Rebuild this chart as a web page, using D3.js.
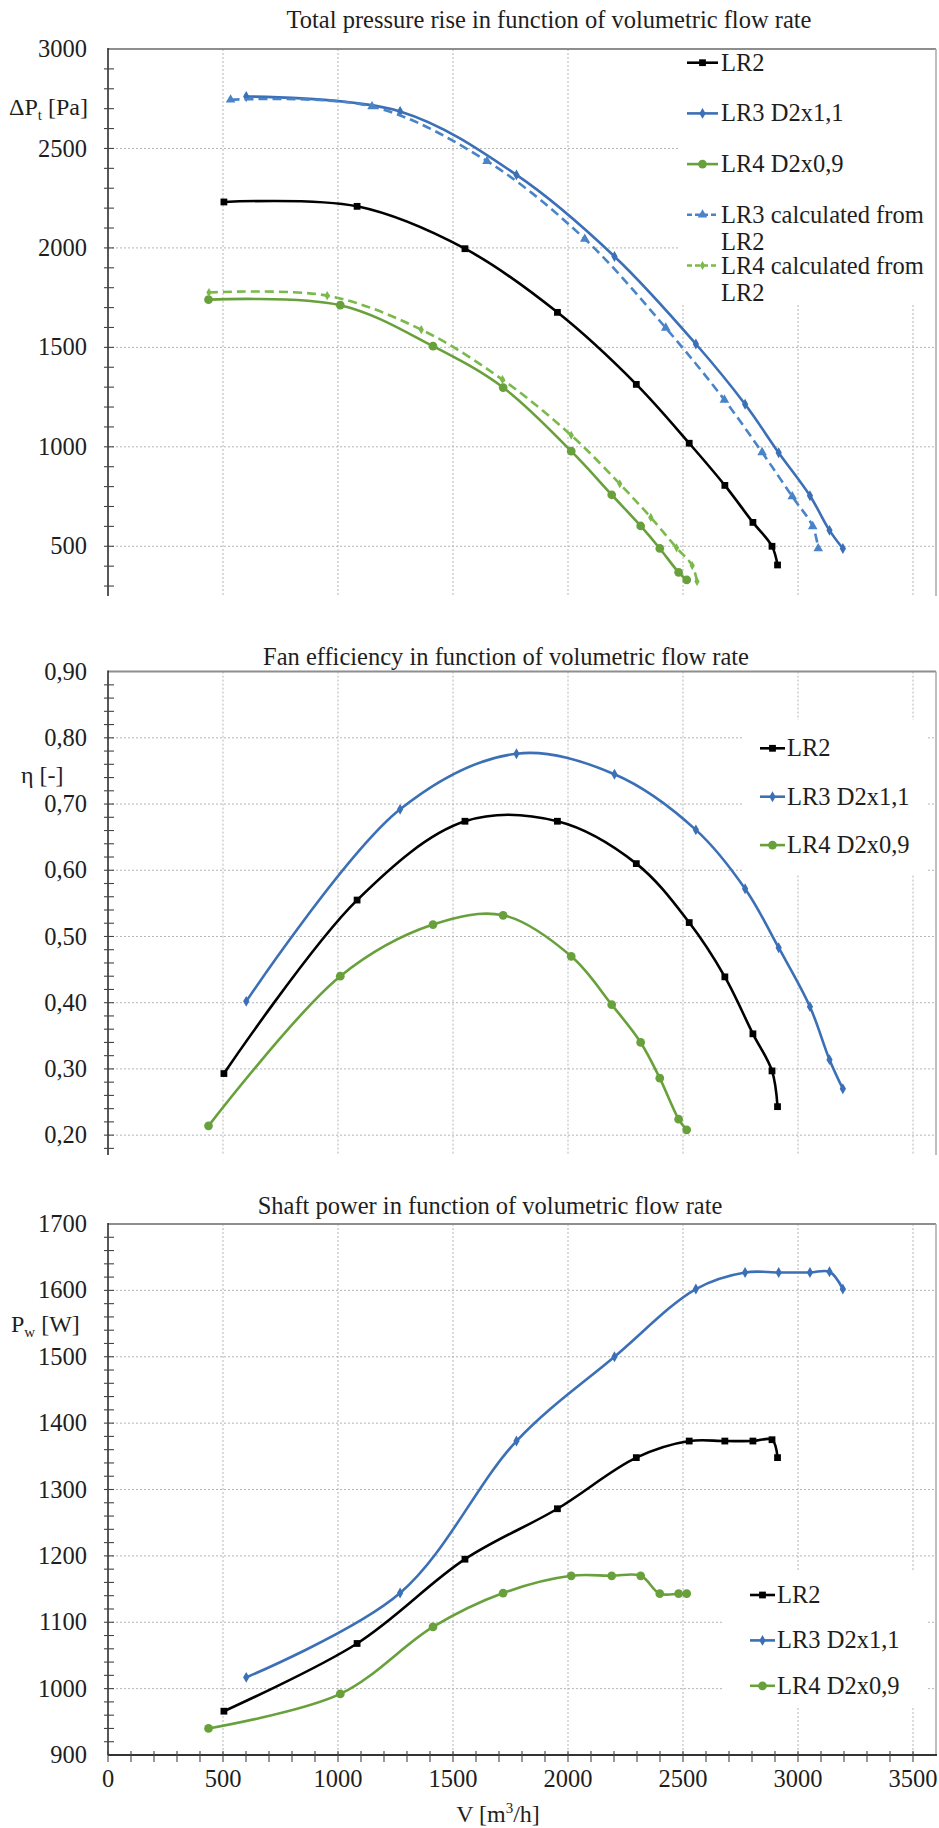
<!DOCTYPE html>
<html><head><meta charset="utf-8">
<script src="https://cdn.jsdelivr.net/npm/d3@7"></script>
<style>
body{margin:0;background:#fff}
svg{display:block}
text,tspan{font-family:"Liberation Serif","Times New Roman",serif;fill:#1e1e1e}
</style>
</head><body>
<svg id="c" width="939" height="1828" font-family="Liberation Serif, Times New Roman, serif"></svg>
<script>
// ---------- data ----------
const flowLR2     = [504, 1083, 1552, 1954, 2297, 2527, 2682, 2804, 2887, 2911];
const flowLR3     = [601, 1270, 1776, 2202, 2556, 2770, 2916, 3052, 3137, 3195];
const flowLR4     = [437, 1010, 1413, 1718, 2014, 2190, 2316, 2399, 2481, 2516];
const flowLR3calc = [533, 1148, 1648, 2073, 2425, 2680, 2844, 2975, 3064, 3088];
const flowLR4calc = [439, 953, 1362, 1715, 2014, 2225, 2360, 2472, 2540, 2561];

const pressureLR2     = [2231, 2209, 1996, 1676, 1314, 1018, 806, 620, 500, 406];
const pressureLR3     = [2761, 2686, 2367, 1957, 1517, 1214, 970, 754, 580, 489];
const pressureLR4     = [1740, 1712, 1506, 1298, 978, 759, 602, 489, 369, 331];
const pressureLR3calc = [2745, 2711, 2436, 2045, 1598, 1236, 972, 750, 600, 489];
const pressureLR4calc = [1776, 1760, 1589, 1338, 1058, 814, 645, 492, 403, 323];

const efficiencyLR2 = [0.293, 0.555, 0.674, 0.674, 0.610, 0.521, 0.439, 0.353, 0.297, 0.243];
const efficiencyLR3 = [0.402, 0.692, 0.776, 0.745, 0.661, 0.572, 0.483, 0.394, 0.314, 0.270];
const efficiencyLR4 = [0.214, 0.440, 0.518, 0.532, 0.470, 0.397, 0.340, 0.286, 0.224, 0.208];

const powerLR2 = [966, 1068, 1195, 1271, 1348, 1373, 1373, 1373, 1375, 1348];
const powerLR3 = [1017, 1144, 1373, 1500, 1602, 1627, 1627, 1627, 1628, 1602];
const powerLR4 = [940, 992, 1093, 1144, 1170, 1170, 1170, 1143, 1143, 1143];

const seriesNames = ["LR2", "LR3 D2x1,1", "LR4 D2x0,9", "LR3 calculated from LR2", "LR4 calculated from LR2"];
const flowTicks = [0, 500, 1000, 1500, 2000, 2500, 3000, 3500];
const pressureTicks = [500, 1000, 1500, 2000, 2500, 3000];
const efficiencyTicks = [0.2, 0.3, 0.4, 0.5, 0.6, 0.7, 0.8, 0.9];
const powerTicks = [900, 1000, 1100, 1200, 1300, 1400, 1500, 1600, 1700];
const titles = ["Total pressure rise in function of volumetric flow rate",
                "Fan efficiency in function of volumetric flow rate",
                "Shaft power in function of volumetric flow rate"];

// ---------- styles ----------
const FONT = '"Liberation Serif","Times New Roman",serif';
const styleOf = {
  "LR2": {color:"#000000", dash:null, sym:d3.symbolSquare, size:46},
  "LR3 D2x1,1": {color:"#3b6fb6", dash:null, sym:d3.symbolDiamond, size:34},
  "LR4 D2x0,9": {color:"#68a13b", dash:null, sym:d3.symbolCircle, size:60},
  "LR3 calculated from LR2": {color:"#4a84c8", dash:"9,5", sym:d3.symbolTriangle, size:40},
  "LR4 calculated from LR2": {color:"#7ab94a", dash:"9,5", sym:d3.symbolDiamond, size:24}
};

const svg = d3.select("#c");
const X0 = 108, X1 = 936;
const x = d3.scaleLinear().domain([0, 3600]).range([X0, X1]);
const curve = d3.curveCatmullRom.alpha(0.5);

function txt(sel, size) {
  return sel.append("text").style("font-family", FONT).attr("font-size", size).attr("fill", "#1e1e1e");
}

function chart(o) {
  const g = svg.append("g");
  const y = o.y;
  const [yb, yt] = y.range();

  // horizontal gridlines
  g.selectAll(null).data(o.ticks.filter(t => y(t) > yt + 1)).enter().append("line")
    .attr("x1", X0).attr("x2", X1).attr("y1", d => y(d)).attr("y2", d => y(d))
    .attr("stroke", "#b5b5b5").attr("stroke-width", 1).attr("stroke-dasharray", "2,2");
  // vertical gridlines
  g.selectAll(null).data(flowTicks.filter(t => t > 0)).enter().append("line")
    .attr("x1", d => x(d)).attr("x2", d => x(d)).attr("y1", yt).attr("y2", yb)
    .attr("stroke", "#b5b5b5").attr("stroke-width", 1).attr("stroke-dasharray", "2,2");

  // legend background
  const L = o.legend;
  g.append("rect").attr("x", L.box[0]).attr("y", L.box[1]).attr("width", L.box[2]).attr("height", L.box[3]).attr("fill", "#fff");

  // borders
  g.append("line").attr("x1", X0).attr("x2", X1).attr("y1", yt).attr("y2", yt).attr("stroke", "#8e8e8e").attr("stroke-width", 2);
  g.append("line").attr("x1", X1).attr("x2", X1).attr("y1", yt).attr("y2", yb).attr("stroke", "#a8a8a8").attr("stroke-width", 1.5);

  // series
  o.series.forEach(s => {
    const st = styleOf[s.name];
    const pts = s.flow.map((f, i) => [f, s.vals[i]]);
    g.append("path").datum(pts)
      .attr("d", d3.line().x(d => x(d[0])).y(d => y(d[1])).curve(curve))
      .attr("fill", "none").attr("stroke", st.color).attr("stroke-width", 2.6)
      .attr("stroke-dasharray", st.dash);
    g.selectAll(null).data(pts).enter().append("path")
      .attr("d", d3.symbol().type(st.sym).size(st.size))
      .attr("transform", d => `translate(${x(d[0])},${y(d[1])})`)
      .attr("fill", st.color);
  });

  // y axis
  g.append("line").attr("x1", X0).attr("x2", X0).attr("y1", yt - 1).attr("y2", yb).attr("stroke", "#2e2e2e").attr("stroke-width", 1.6);
  g.selectAll(null).data(o.minor).enter().append("line")
    .attr("x1", X0 - 4).attr("x2", X0 + 6).attr("y1", d => y(d)).attr("y2", d => y(d))
    .attr("stroke", "#444").attr("stroke-width", 1.1);
  o.ticks.forEach(t => {
    txt(g, 24.5).attr("x", 87).attr("y", y(t)).attr("dy", "0.33em").attr("text-anchor", "end").text(o.fmt(t));
  });

  // title
  txt(g, 24.5).attr("x", o.titleX).attr("y", o.titleY).attr("text-anchor", "middle").text(o.title);

  // axis title
  const at = txt(g, 24).attr("x", o.axisTitle.x).attr("y", o.axisTitle.y);
  o.axisTitle.parts.forEach(p => {
    const t = at.append("tspan").style("font-family", FONT).text(p.t);
    if (p.sub) t.attr("font-size", 15).attr("dy", 5);
    if (p.after) t.attr("dy", -5);
  });

  // legend
  L.items.forEach((it, i) => {
    const st = styleOf[it.name];
    const ly = L.y0 + i * L.step;
    g.append("line").attr("x1", L.lx0).attr("x2", L.lx1).attr("y1", ly).attr("y2", ly)
      .attr("stroke", st.color).attr("stroke-width", 2.6).attr("stroke-dasharray", st.dash ? "5,3" : null);
    g.append("path").attr("d", d3.symbol().type(st.sym).size(st.size))
      .attr("transform", `translate(${(L.lx0 + L.lx1) / 2},${ly})`).attr("fill", st.color);
    const tx = txt(g, 24.5).attr("x", L.tx).attr("y", ly);
    it.lines.forEach((ln, j) => {
      tx.append("tspan").style("font-family", FONT).attr("x", L.tx).attr("dy", j === 0 ? "0.33em" : 27).text(ln);
    });
  });
  return g;
}

const range = (a, b, s) => d3.range(Math.round(a / s), Math.round(b / s) + 1).map(k => +(k * s).toFixed(4));

// ---------- chart 1: pressure ----------
chart({
  y: d3.scaleLinear().domain([250, 3000]).range([596, 49]),
  ticks: pressureTicks, minor: range(300, 2900, 100),
  fmt: d => d3.format("d")(d),
  title: titles[0], titleX: 549, titleY: 28,
  axisTitle: {x: 9, y: 115, parts: [{t: "ΔP"}, {t: "t", sub: true}, {t: " [Pa]", after: true}]},
  series: [
    {name: seriesNames[0], flow: flowLR2, vals: pressureLR2},
    {name: seriesNames[1], flow: flowLR3, vals: pressureLR3},
    {name: seriesNames[2], flow: flowLR4, vals: pressureLR4},
    {name: seriesNames[3], flow: flowLR3calc, vals: pressureLR3calc},
    {name: seriesNames[4], flow: flowLR4calc, vals: pressureLR4calc}
  ],
  legend: {box: [680, 50, 256, 253], lx0: 687, lx1: 718, tx: 721, y0: 62.7, step: 50.7,
    items: [
      {name: seriesNames[0], lines: ["LR2"]},
      {name: seriesNames[1], lines: ["LR3 D2x1,1"]},
      {name: seriesNames[2], lines: ["LR4 D2x0,9"]},
      {name: seriesNames[3], lines: ["LR3 calculated from", "LR2"]},
      {name: seriesNames[4], lines: ["LR4 calculated from", "LR2"]}
    ]}
});

// ---------- chart 2: efficiency ----------
chart({
  y: d3.scaleLinear().domain([0.17, 0.90]).range([1155, 671.6]),
  ticks: efficiencyTicks, minor: range(0.18, 0.88, 0.02),
  fmt: d => d3.format(".2f")(d).replace(".", ","),
  title: titles[1], titleX: 506, titleY: 665,
  axisTitle: {x: 21, y: 783, parts: [{t: "η [-]"}]},
  series: [
    {name: seriesNames[0], flow: flowLR2, vals: efficiencyLR2},
    {name: seriesNames[1], flow: flowLR3, vals: efficiencyLR3},
    {name: seriesNames[2], flow: flowLR4, vals: efficiencyLR4}
  ],
  legend: {box: [743, 720, 184, 155], lx0: 760, lx1: 785, tx: 787, y0: 748.3, step: 48.4,
    items: [
      {name: seriesNames[0], lines: ["LR2"]},
      {name: seriesNames[1], lines: ["LR3 D2x1,1"]},
      {name: seriesNames[2], lines: ["LR4 D2x0,9"]}
    ]}
});

// ---------- chart 3: power ----------
const yP = d3.scaleLinear().domain([900, 1700]).range([1755, 1224]);
chart({
  y: yP,
  ticks: powerTicks, minor: range(920, 1680, 20),
  fmt: d => d3.format("d")(d),
  title: titles[2], titleX: 490, titleY: 1214,
  axisTitle: {x: 11, y: 1332, parts: [{t: "P"}, {t: "w", sub: true}, {t: " [W]", after: true}]},
  series: [
    {name: seriesNames[0], flow: flowLR2, vals: powerLR2},
    {name: seriesNames[1], flow: flowLR3, vals: powerLR3},
    {name: seriesNames[2], flow: flowLR4, vals: powerLR4}
  ],
  legend: {box: [722, 1572, 205, 136], lx0: 750, lx1: 775, tx: 777, y0: 1595, step: 45.4,
    items: [
      {name: seriesNames[0], lines: ["LR2"]},
      {name: seriesNames[1], lines: ["LR3 D2x1,1"]},
      {name: seriesNames[2], lines: ["LR4 D2x0,9"]}
    ]}
});

// x axis for the bottom chart
const xa = svg.append("g");
xa.append("line").attr("x1", X0).attr("x2", X1 + 1).attr("y1", yP(900)).attr("y2", yP(900))
  .attr("stroke", "#333").attr("stroke-width", 2.2);
xa.selectAll(null).data(range(0, 3500, 100)).enter().append("line")
  .attr("x1", d => x(d)).attr("x2", d => x(d)).attr("y1", yP(900) - 4).attr("y2", yP(900) + 7)
  .attr("stroke", "#444").attr("stroke-width", 1.1);
flowTicks.forEach(t => {
  txt(xa, 24.5).attr("x", x(t)).attr("y", 1779).attr("dy", "0.33em").attr("text-anchor", "middle").text(t);
});
const xt = txt(xa, 24).attr("x", 498).attr("y", 1822).attr("text-anchor", "middle");
xt.append("tspan").style("font-family", FONT).text("V [m");
xt.append("tspan").style("font-family", FONT).text("3").attr("font-size", 15).attr("dy", -9);
xt.append("tspan").style("font-family", FONT).text("/h]").attr("dy", 9);
</script>
</body></html>
